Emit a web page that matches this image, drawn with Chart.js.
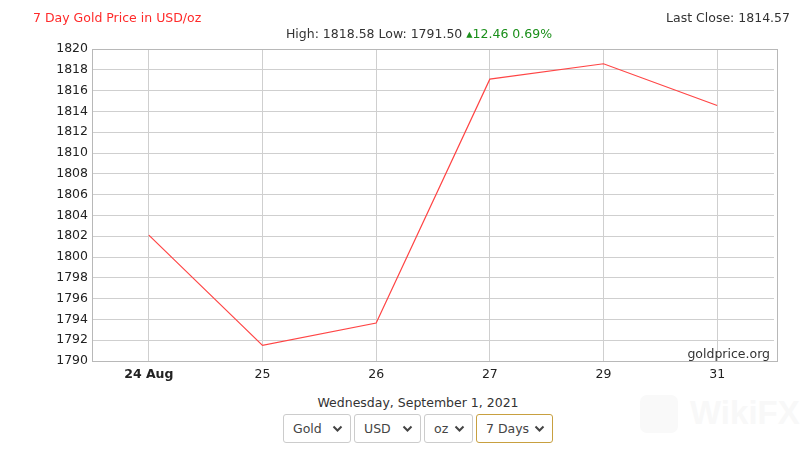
<!DOCTYPE html>
<html><head><meta charset="utf-8">
<script src="https://cdn.jsdelivr.net/npm/chart.js@4"></script>
<style>
html,body{margin:0;padding:0;background:#fff;width:811px;height:452px;overflow:hidden;font-family:"DejaVu Sans",Verdana,sans-serif;}
#wrap{position:absolute;left:0;top:0;width:811px;height:390px;}
.t{position:absolute;white-space:nowrap;font-size:12.5px;color:#333;}
#title{left:33px;top:10px;color:#ff2a2a;}
#last{right:21px;top:10px;}
#hl{left:0;width:838px;text-align:center;top:26px;}
#date{left:0;width:836px;text-align:center;top:395px;}
.sel{position:absolute;top:414px;height:29px;box-sizing:border-box;border:1px solid #ccc;border-radius:3px;background:#fff;font-size:12.5px;color:#444;line-height:27px;padding-left:9px;}
.sel svg{position:absolute;right:7px;top:10px;}
#wm{position:absolute;left:640px;top:393px;height:40px;}
#wm .box{position:absolute;left:0;top:2px;width:38px;height:38px;border-radius:7px;background:#f9f9f9;}
#wm .txt{position:absolute;left:50px;top:1px;font-size:33px;font-weight:bold;color:#f8f8f8;font-family:"Liberation Sans";}
</style></head>
<body>
<div id="wrap"><canvas id="c"></canvas></div>
<div class="t" id="title">7 Day Gold Price in USD/oz</div>
<div class="t" id="last">Last Close: 1814.57</div>
<div class="t" id="hl">High: 1818.58 Low: 1791.50 <span style="color:#1a8f1a">▴12.46 0.69%</span></div>
<div id="wm"><div class="box"></div><div class="txt">WikiFX</div></div>
<div class="t" id="date">Wednesday, September 1, 2021</div>
<div class="sel" style="left:283px;width:68px">Gold<svg width="11" height="8"><polyline points="1.5,1.5 5.5,5.5 9.5,1.5" fill="none" stroke="#444" stroke-width="2"/></svg></div>
<div class="sel" style="left:354px;width:67px">USD<svg width="11" height="8"><polyline points="1.5,1.5 5.5,5.5 9.5,1.5" fill="none" stroke="#444" stroke-width="2"/></svg></div>
<div class="sel" style="left:424px;width:49px">oz<svg width="11" height="8"><polyline points="1.5,1.5 5.5,5.5 9.5,1.5" fill="none" stroke="#444" stroke-width="2"/></svg></div>
<div class="sel" style="left:476px;width:77px;border-color:#c8a040">7 Days<svg width="11" height="8"><polyline points="1.5,1.5 5.5,5.5 9.5,1.5" fill="none" stroke="#444" stroke-width="2"/></svg></div>
<script>
const labels = ["24 Aug", "25", "26", "27", "29", "31"];
const prices = [1802.11, 1791.50, 1793.65, 1817.10, 1818.58, 1814.57];
const yTicks = {min: 1790, max: 1820, step: 2};

const frame = {
  id: 'frame',
  afterDraw(chart) {
    const {ctx, chartArea: a} = chart;
    ctx.save();
    ctx.strokeStyle = '#b8b8b8';
    ctx.lineWidth = 1;
    ctx.strokeRect(Math.round(a.left)+0.5, Math.round(a.top)+0.5, Math.round(a.right-a.left)+3, Math.round(a.bottom-a.top));
    ctx.fillStyle = '#333';
    ctx.font = '12.5px "DejaVu Sans"';
    ctx.textAlign = 'right';
    ctx.textBaseline = 'alphabetic';
    ctx.fillText('goldprice.org', a.right - 4, a.bottom - 3);
    ctx.restore();
  }
};

new Chart(document.getElementById('c'), {
  type: 'line',
  data: {
    labels: labels,
    datasets: [{
      data: prices,
      borderColor: '#ff4545',
      borderWidth: 1.2,
      pointRadius: 0,
      tension: 0,
      fill: false
    }]
  },
  options: {
    responsive: true,
    maintainAspectRatio: false,
    animation: false,
    devicePixelRatio: 1,
    layout: {padding: {top: 49, right: 37, left: 0, bottom: 0}},
    plugins: {legend: {display: false}, tooltip: {enabled: false}},
    scales: {
      x: {
        offset: true,
        afterFit(s) { s.height = 29; },
        grid: {color: '#cfcfcf', drawTicks: false, offset: false},
        border: {display: false},
        ticks: {
          padding: 6,
          color: '#222',
          maxRotation: 0,
          font: (c) => ({family: 'DejaVu Sans', size: 12.5, weight: c.index === 0 ? 'bold' : 'normal'})
        }
      },
      y: {
        min: yTicks.min, max: yTicks.max,
        afterFit(s) { s.width = 92; },
        grid: {color: '#cfcfcf', drawTicks: false},
        border: {display: false},
        ticks: {stepSize: yTicks.step, padding: 4, color: '#222', font: {family: 'DejaVu Sans', size: 12.5},
          callback: (v) => String(v)}
      }
    }
  },
  plugins: [frame]
});
</script>
</body></html>
